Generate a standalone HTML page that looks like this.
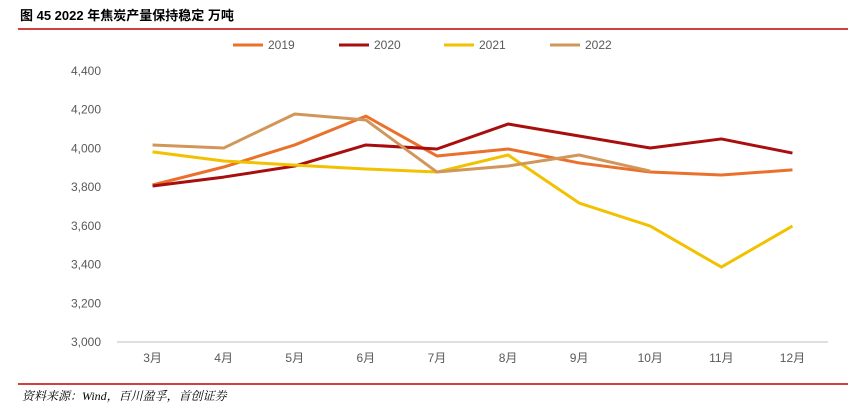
<!DOCTYPE html>
<html><head><meta charset="utf-8">
<style>
body{margin:0;background:#fff;width:867px;height:405px;overflow:hidden;font-family:"Liberation Sans","Noto Sans CJK SC",sans-serif;}
</style></head>
<body>
<svg width="867" height="405" xmlns="http://www.w3.org/2000/svg">
<text x="20" y="20" font-size="13" font-weight="bold" font-family="Liberation Sans, Noto Sans CJK SC, sans-serif">图 45 2022 年焦炭产量保持稳定 万吨</text>
<line x1="18" y1="29" x2="848" y2="29" stroke="#C00000" stroke-width="1.5"/>
<line x1="18" y1="384" x2="848" y2="384" stroke="#C00000" stroke-width="1.5"/>
<text x="22" y="400" font-size="12" font-style="italic" font-family="Liberation Serif, Noto Serif CJK SC, serif">资料来源：Wind，百川盈孚，首创证券</text>
<g id="axes"></g>
<g id="series"></g>
<g id="legend"></g>
</svg>
<script>
const categories=["3月","4月","5月","6月","7月","8月","9月","10月","11月","12月"];
const yTicks=[3000,3200,3400,3600,3800,4000,4200,4400];
const seriesNames=["2019","2020","2021","2022"];
const s2019=[3811,3904,4018,4167,3961,3997,3925,3878,3863,3889];
const s2020=[3806,3852,3909,4018,3997,4126,4064,4002,4049,3976];
const s2021=[3982,3935,3914,3894,3878,3966,3718,3599,3387,3599];
const s2022=[4018,4002,4178,4147,3878,3909,3966,3883];
const colors=["#E9712B","#A80E0E","#F2C200","#D1965A"];
const NS="http://www.w3.org/2000/svg";
const x0=117,x1=828,yTop=71,yBot=342,vMin=3000,vMax=4400;
const step=(x1-x0)/categories.length;
const xs=i=>x0+step*(i+0.5);
const ys=v=>yBot-(v-vMin)/(vMax-vMin)*(yBot-yTop);
function mk(tag,attrs,parent){const e=document.createElementNS(NS,tag);for(const k in attrs)e.setAttribute(k,attrs[k]);parent.appendChild(e);return e;}
const axes=document.getElementById('axes');
const ax=mk('line',{x1:x0,y1:yBot,x2:x1,y2:yBot,stroke:'#BFBFBF','stroke-width':1},axes);


yTicks.forEach(v=>{const t=mk('text',{x:101,y:ys(v)+4,'font-size':12,'text-anchor':'end',fill:'#595959'},axes);t.textContent=v.toLocaleString('en-US');

});
categories.forEach((c,i)=>{const t=mk('text',{x:xs(i),y:362,'font-size':12,'text-anchor':'middle',fill:'#595959'},axes);t.textContent=c;

});
const all=[s2019,s2020,s2021,s2022];
const sg=document.getElementById('series');
all.forEach((d,k)=>{const p=mk('polyline',{points:d.map((v,i)=>xs(i)+','+ys(v)).join(' '),fill:'none',stroke:colors[k],'stroke-width':3,'stroke-linejoin':'round'},sg);

});
const lg=document.getElementById('legend');
const lx=[233,339,444,550];
seriesNames.forEach((n,k)=>{const g=mk('g',{},lg);


mk('line',{x1:lx[k],y1:45,x2:lx[k]+30,y2:45,stroke:colors[k],'stroke-width':3},g);
const t=mk('text',{x:lx[k]+35,y:49,'font-size':12,fill:'#595959'},g);t.textContent=n;});
</script>
</body></html>
